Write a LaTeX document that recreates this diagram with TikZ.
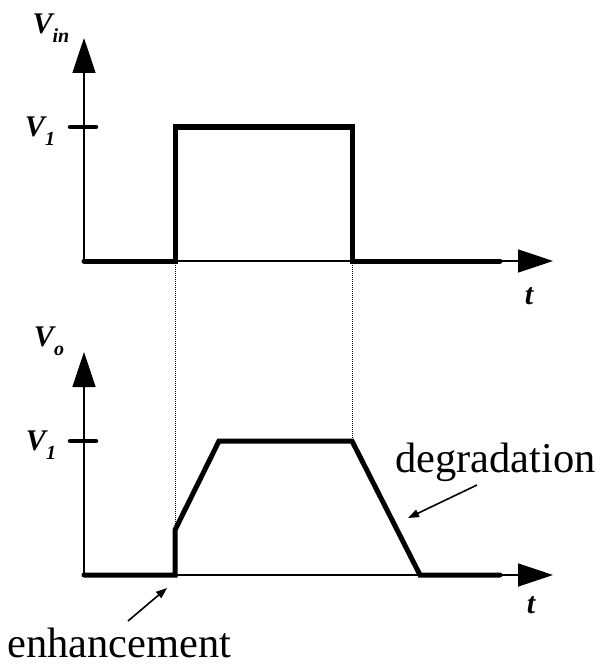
\documentclass[tikz,border=0pt]{standalone}
\usepackage{fontspec}
\setmainfont{Liberation Serif}
\usetikzlibrary{arrows.meta,positioning}
\tikzset{
    axis/.style={line width=1.8pt, -{Triangle[length=35pt,width=23pt]}},
    wave/.style={line width=5pt, line cap=round, line join=miter},
    tickmark/.style={line width=4.5pt, line cap=round},
    guide/.style={line width=1pt, densely dotted},
    notearrow/.style={line width=1.6pt, -{Triangle[length=11pt,width=8pt]}},
    vlabel/.style={inner sep=0pt, font=\fontsize{30}{34}\selectfont\bfseries\itshape},
    notelabel/.style={inner sep=0pt, font=\fontsize{42.5}{50}\selectfont}
}
\newcommand{\vsym}[1]{V\raisebox{-9pt}{\fontsize{20}{24}\selectfont #1}}

\begin{document}
\begin{tikzpicture}[x=1pt, y=-1pt]
\useasboundingbox (0,0) rectangle (601,666);
% input pulse
\coordinate (o1) at (84,261);
\coordinate (ytop1) at (84,38);
\coordinate (xend1) at (553,261);
\coordinate (r1) at (175,261);
\coordinate (r1t) at (175,127);
\coordinate (f1t) at (352,127);
\coordinate (f1) at (352,261);
\coordinate (e1) at (500,261);
\draw[axis] (o1) -- (ytop1);
\draw[axis] (o1) -- (xend1);
\draw[tickmark] (70,127) -- (96,127);
\draw[wave] (o1) -- (r1) -- (r1t) -- (f1t) -- (f1) -- (e1);
\node[vlabel] (vin) at (51,28) {\vsym{in}};
\node[vlabel] (v1a) at (40,131) {\vsym{1}};
\node[vlabel] (t1) at (529,296) {t};
% output response
\coordinate (o2) at (84,575);
\coordinate (ytop2) at (84,352);
\coordinate (xend2) at (553,575);
\coordinate (r2) at (175,575);
\coordinate (r2j) at (175,530);
\coordinate (r2t) at (219,441);
\coordinate (f2t) at (352,441);
\coordinate (f2) at (420,575);
\coordinate (e2) at (500,575);
\draw[axis] (o2) -- (ytop2);
\draw[axis] (o2) -- (xend2);
\draw[tickmark] (70,441) -- (96,441);
\draw[wave] (o2) -- (r2) -- (r2j) -- (r2t) -- (f2t) -- (f2) -- (e2);
\node[vlabel] (vo) at (49,341) {\vsym{o}};
\node[vlabel] (v1b) at (41,445) {\vsym{1}};
\node[vlabel] (t2) at (531,605) {t};
% guides
\draw[guide] (r1) -- (r2);
\draw[guide] (f1) -- (f2t);
% notes
\node[notelabel, anchor=base west] (enh) at (7,657) {enhancement};
\node[notelabel, anchor=base west] (deg) at (395,472) {degradation};
\coordinate (enhtail) at (128,621);
\coordinate (enhtip) at (167,588);
\coordinate (degtail) at (477,485);
\coordinate (degtip) at (408,518);
\draw[notearrow] (enhtail) -- (enhtip);
\draw[notearrow] (degtail) -- (degtip);
\end{tikzpicture}
\end{document}
